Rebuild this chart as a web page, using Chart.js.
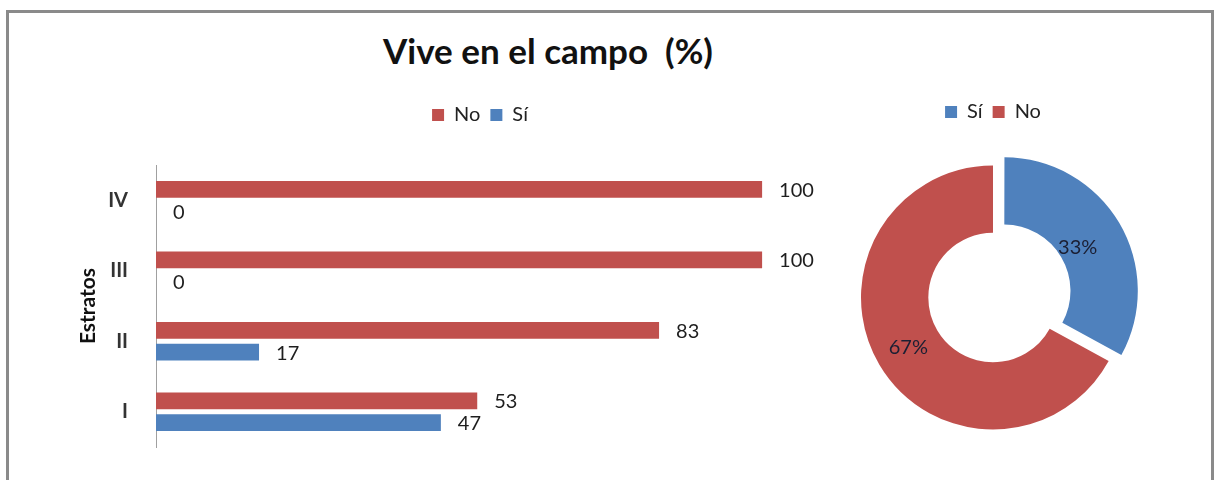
<!DOCTYPE html>
<html>
<head>
<meta charset="utf-8">
<script src="https://cdn.jsdelivr.net/npm/chart.js@4/dist/chart.umd.min.js"></script>
<style>
body { margin:0; background:#fff; width:1220px; height:480px; overflow:hidden; position:relative; font-family:Lato, sans-serif; }
#frame { position:absolute; left:6px; top:10px; width:1208px; height:490px; border:3px solid #8a8a8a; box-sizing:border-box; }
#title { position:absolute; left:0; top:30px; width:1096px; text-align:center; font-size:35px; font-weight:bold; line-height:40px; color:#111; }
#bar { position:absolute; left:10px; top:95px; }
#pie { position:absolute; left:843px; top:92px; }
</style>
</head>
<body>
<div id="frame"></div>
<div id="title">Vive en el campo &nbsp;(%)</div>
<canvas id="bar" width="940" height="384"></canvas>
<canvas id="pie" width="300" height="375"></canvas>
<script>
// data
const estratos = ["IV", "III", "II", "I"]
const noValues = [100, 100, 83, 53]
const siValues = [0, 0, 17, 47]
const pieLabels = ["Sí", "No"]
const pieValues = [33, 67]

const RED = "#C0504D"
const BLUE = "#4F81BD"
const FONT = "Lato"

// extra room under the bar legend
const legendGap = {
  id: "legendGap",
  beforeLayout(chart, args, opts) {
    if (!chart.legend || chart.legend._gapDone) return
    const fit = chart.legend.fit
    chart.legend.fit = function () { fit.call(this); this.height += opts.gap }
    chart.legend._gapDone = true
  }
}

// value at the end of each bar
const barValues = {
  id: "barValues",
  afterDatasetsDraw(chart) {
    const ctx = chart.ctx
    ctx.save()
    ctx.font = "20px " + FONT
    ctx.fillStyle = "#1e1e1e"
    ctx.textBaseline = "middle"
    chart.data.datasets.forEach((ds, i) => {
      chart.getDatasetMeta(i).data.forEach((bar, j) => {
        ctx.fillText(ds.data[j], bar.x + 17, bar.y + 1)
      })
    })
    ctx.restore()
  }
}

// percent labels on the donut
const pieValueLabels = {
  id: "pieValueLabels",
  afterDatasetsDraw(chart) {
    const ctx = chart.ctx
    const ds = chart.data.datasets[0]
    const total = ds.data.reduce((s, v) => s + v, 0)
    ctx.save()
    ctx.font = "20px " + FONT
    ctx.fillStyle = "#1b1f33"
    ctx.textAlign = "center"
    ctx.textBaseline = "middle"
    chart.getDatasetMeta(0).data.forEach((arc, j) => {
      let mid = (arc.startAngle + arc.endAngle) / 2
      let r = (arc.innerRadius + arc.outerRadius) / 2
      let pct = Math.round(ds.data[j] / total * 100) + "%"
      ctx.fillText(pct, arc.x + Math.cos(mid) * r, arc.y + Math.sin(mid) * r)
    })
    ctx.restore()
  }
}

new Chart(document.getElementById("bar"), {
  type: "bar",
  data: {
    labels: estratos,
    datasets: [
      { label: "No", data: noValues, backgroundColor: RED, categoryPercentage: 0.62, barPercentage: 0.77 },
      { label: "Sí", data: siValues, backgroundColor: BLUE, categoryPercentage: 0.62, barPercentage: 0.77 }
    ]
  },
  options: {
    indexAxis: "y",
    responsive: false,
    animation: false,
    layout: { padding: { left: 0, right: 0, top: 0, bottom: 10 } },
    plugins: {
      legend: {
        position: "top",
        labels: { boxWidth: 12, boxHeight: 12, padding: 10, color: "#222", font: { family: FONT, size: 20 } }
      },
      legendGap: { gap: 30 },
      tooltip: { enabled: false }
    },
    scales: {
      x: { display: false, min: 0, max: 131 },
      y: {
        grid: { display: false },
        border: { color: "#a0a0a0", width: 1 },
        ticks: { color: "#333", padding: 20, font: { family: FONT, size: 20, weight: "bold" } },
        title: { display: true, text: "Estratos", color: "#111", padding: { top: 66, bottom: 0 }, font: { family: FONT, size: 21, weight: "bold" } },
        afterFit(scale) { scale.width = 146 }
      }
    }
  },
  plugins: [legendGap, barValues]
})

new Chart(document.getElementById("pie"), {
  type: "doughnut",
  data: {
    labels: pieLabels,
    datasets: [{
      data: pieValues,
      backgroundColor: [BLUE, RED],
      borderWidth: 0,
      offset: [52, 0]
    }]
  },
  options: {
    responsive: false,
    animation: false,
    radius: 132,
    cutout: "49%",
    layout: { padding: { bottom: 4 } },
    plugins: {
      legend: {
        position: "top",
        labels: { boxWidth: 12, boxHeight: 12, padding: 10, color: "#222", font: { family: FONT, size: 20 } }
      },
      tooltip: { enabled: false }
    }
  },
  plugins: [pieValueLabels]
})
</script>
</body>
</html>
